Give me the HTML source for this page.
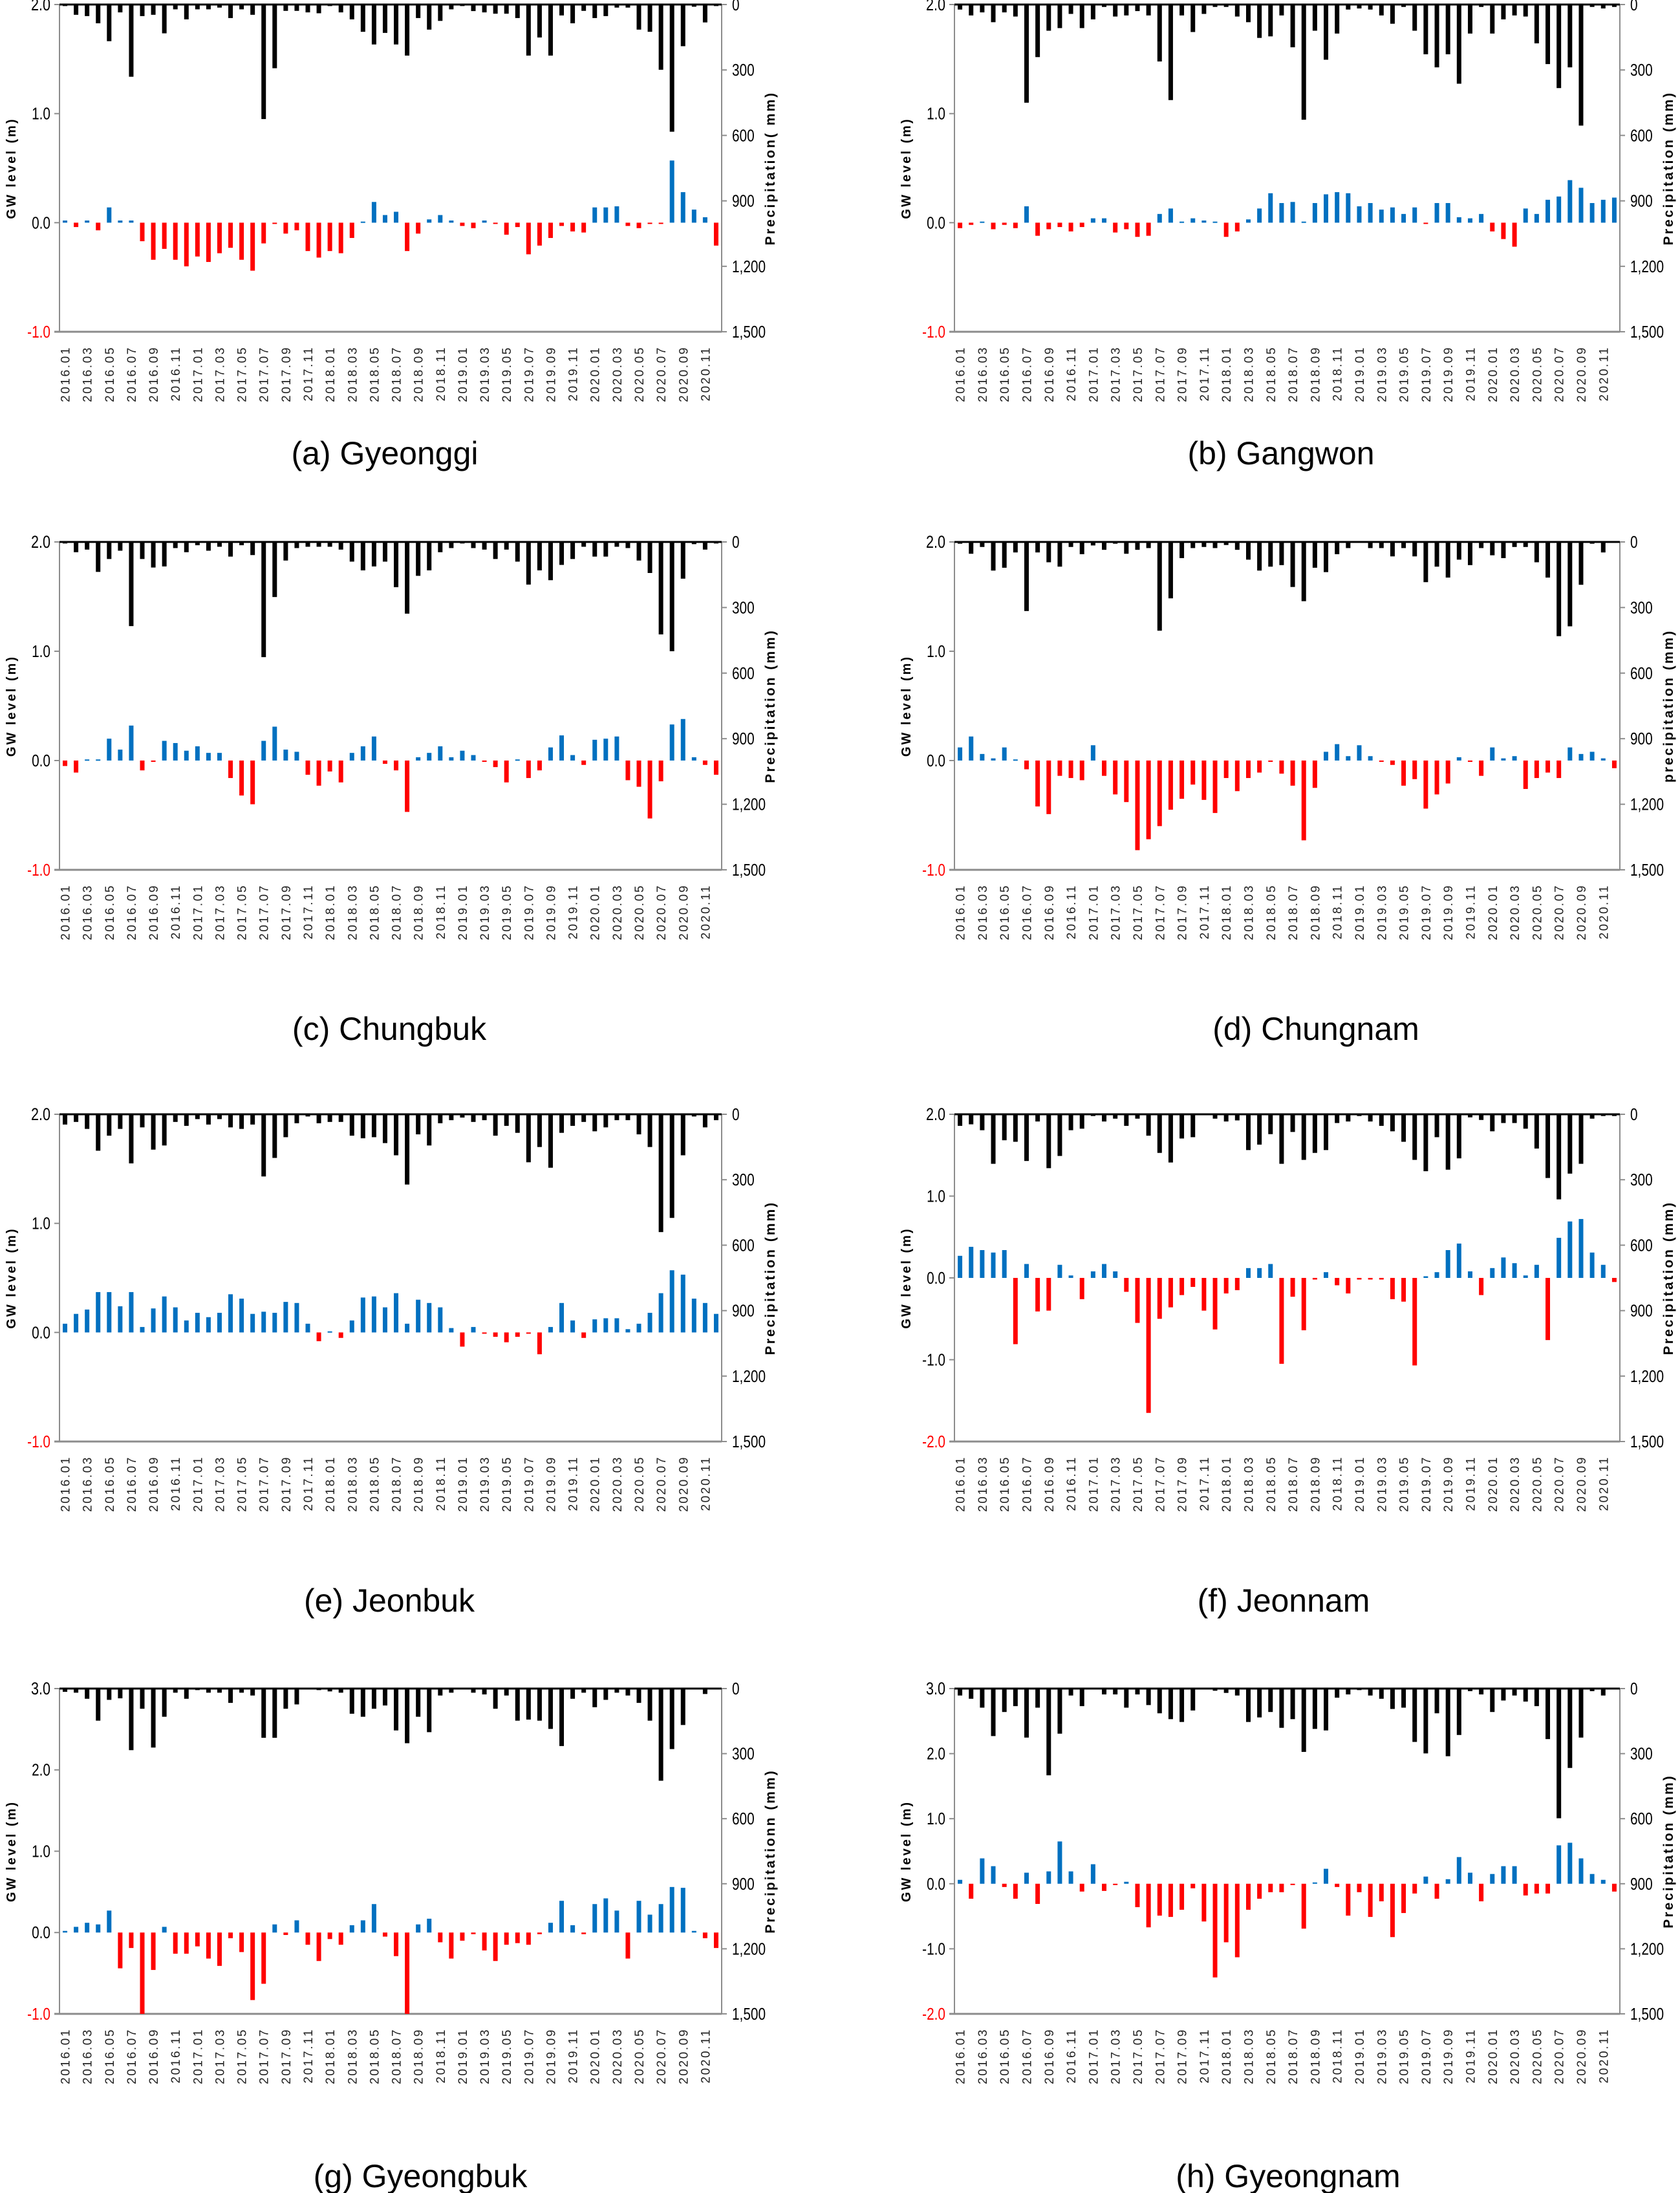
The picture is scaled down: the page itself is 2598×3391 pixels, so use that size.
<!DOCTYPE html>
<html><head><meta charset="utf-8"><style>
html,body{margin:0;padding:0;background:#fff;}
svg{display:block;font-family:"Liberation Sans",sans-serif;}
</style></head><body>
<svg id="fig" width="2598" height="3391" viewBox="0 0 2598 3391" xmlns="http://www.w3.org/2000/svg"></svg>
<script>
const months = [];
for (let y = 2016; y <= 2020; y++) for (let m = 1; m <= 12; m++) months.push(y + '.' + (m < 10 ? '0' + m : m));

const precipA = [7,47,53,86,168,36,331,53,47,132,22,68,22,22,14,62,22,47,525,292,29,29,36,40,7,36,68,125,183,130,183,234,62,115,75,22,7,30,36,42,42,62,234,151,234,50,86,29,62,53,14,14,115,125,299,583,191,10,82,7];
const gwA = [0.02,-0.04,0.02,-0.07,0.14,0.02,0.02,-0.17,-0.34,-0.24,-0.34,-0.40,-0.31,-0.36,-0.28,-0.23,-0.34,-0.44,-0.19,-0.01,-0.10,-0.07,-0.26,-0.32,-0.26,-0.28,-0.14,0.01,0.19,0.07,0.10,-0.26,-0.10,0.03,0.07,0.02,-0.03,-0.05,0.02,-0.01,-0.11,-0.04,-0.29,-0.21,-0.14,-0.03,-0.08,-0.09,0.14,0.14,0.15,-0.03,-0.05,-0.01,-0.01,0.57,0.28,0.12,0.05,-0.21];

const precipB = [23,50,36,81,36,55,450,241,120,108,43,108,68,11,55,50,30,50,261,438,50,126,43,11,11,55,81,153,146,50,196,528,120,253,133,23,18,23,50,88,11,120,228,288,228,363,133,11,133,68,50,55,178,273,383,288,555,11,18,11];
const gwB = [-0.05,-0.02,0.01,-0.06,-0.02,-0.05,0.15,-0.12,-0.06,-0.04,-0.08,-0.04,0.04,0.04,-0.09,-0.06,-0.13,-0.12,0.08,0.13,0.01,0.04,0.02,0.01,-0.13,-0.08,0.03,0.13,0.27,0.18,0.19,0.01,0.18,0.26,0.28,0.27,0.15,0.18,0.12,0.14,0.08,0.14,-0.01,0.18,0.18,0.05,0.04,0.08,-0.08,-0.15,-0.22,0.13,0.08,0.21,0.24,0.39,0.32,0.18,0.21,0.23];

const precipC = [7,47,35,137,78,40,385,78,117,112,28,47,15,40,22,67,15,60,527,252,85,28,22,22,22,35,90,130,112,90,207,328,155,130,47,28,7,28,35,78,35,90,195,130,175,105,78,22,67,67,22,28,85,142,423,500,168,10,35,7];
const gwC = [-0.05,-0.11,0.01,0.01,0.20,0.10,0.32,-0.09,-0.01,0.18,0.16,0.09,0.13,0.07,0.07,-0.16,-0.32,-0.40,0.18,0.31,0.10,0.08,-0.13,-0.23,-0.10,-0.20,0.07,0.13,0.22,-0.03,-0.09,-0.47,0.03,0.07,0.13,0.03,0.09,0.05,-0.01,-0.06,-0.20,0.01,-0.16,-0.09,0.12,0.23,0.05,-0.04,0.19,0.20,0.22,-0.18,-0.24,-0.53,-0.19,0.33,0.38,0.03,-0.04,-0.13];

const precipD = [8,54,23,131,118,48,316,48,93,113,23,56,16,36,8,54,36,28,406,258,74,28,23,28,14,36,81,131,113,106,206,271,118,138,56,28,0,28,28,66,28,66,184,113,163,81,106,28,61,74,23,23,93,163,431,386,196,8,48,0];
const gwD = [0.12,0.22,0.06,0.02,0.12,0.01,-0.08,-0.42,-0.49,-0.14,-0.16,-0.18,0.14,-0.14,-0.31,-0.38,-0.82,-0.72,-0.60,-0.45,-0.35,-0.22,-0.36,-0.48,-0.16,-0.28,-0.16,-0.11,-0.01,-0.12,-0.23,-0.73,-0.25,0.08,0.15,0.04,0.14,0.04,-0.01,-0.04,-0.23,-0.17,-0.44,-0.31,-0.21,0.03,-0.01,-0.14,0.12,0.02,0.04,-0.26,-0.16,-0.11,-0.16,0.12,0.06,0.08,0.02,-0.07];

const precipE = [47,35,67,167,98,67,225,60,162,143,35,53,22,47,22,60,67,47,285,200,105,41,10,41,35,35,98,110,105,132,188,322,92,143,41,27,15,35,27,98,53,85,220,150,245,85,53,35,78,60,27,27,92,150,540,475,188,10,60,27];
const gwE = [0.08,0.17,0.21,0.37,0.37,0.24,0.37,0.05,0.22,0.33,0.23,0.11,0.18,0.14,0.18,0.35,0.31,0.17,0.19,0.18,0.28,0.27,0.08,-0.08,0.01,-0.05,0.11,0.32,0.33,0.23,0.36,0.08,0.30,0.27,0.23,0.04,-0.13,0.05,-0.01,-0.04,-0.09,-0.04,-0.01,-0.20,0.05,0.27,0.11,-0.05,0.12,0.13,0.13,0.03,0.08,0.18,0.36,0.57,0.53,0.31,0.27,0.17];

const precipF = [53,46,73,227,119,126,214,33,247,191,73,66,8,33,20,53,20,98,177,221,111,105,0,20,33,28,164,139,91,227,81,209,177,164,40,33,8,33,53,78,126,209,261,105,254,202,14,26,78,40,40,66,157,292,390,272,227,20,8,8];
const gwF = [0.27,0.38,0.34,0.31,0.34,-0.81,0.17,-0.41,-0.40,0.16,0.03,-0.26,0.08,0.17,0.08,-0.17,-0.55,-1.65,-0.50,-0.36,-0.21,-0.11,-0.40,-0.63,-0.19,-0.15,0.12,0.12,0.17,-1.05,-0.23,-0.64,-0.02,0.07,-0.09,-0.19,-0.02,-0.02,-0.02,-0.26,-0.29,-1.07,0.02,0.07,0.34,0.42,0.08,-0.21,0.12,0.25,0.18,0.03,0.16,-0.76,0.49,0.69,0.72,0.31,0.16,-0.05];

const precipG = [15,19,47,148,52,45,284,93,272,130,19,47,7,19,19,66,19,32,227,227,93,73,0,7,13,19,116,130,93,78,193,252,130,201,32,19,0,19,27,93,32,148,143,148,186,265,47,19,86,52,19,32,66,148,425,279,168,0,25,0];
const gwG = [0.02,0.07,0.12,0.10,0.27,-0.44,-0.19,-1.0,-0.46,0.07,-0.26,-0.26,-0.17,-0.32,-0.41,-0.07,-0.24,-0.83,-0.63,0.10,-0.03,0.15,-0.15,-0.35,-0.08,-0.15,0.09,0.15,0.35,-0.05,-0.29,-1.0,0.10,0.17,-0.12,-0.32,-0.10,-0.02,-0.22,-0.35,-0.15,-0.13,-0.15,-0.02,0.12,0.39,0.09,-0.02,0.35,0.42,0.27,-0.32,0.39,0.22,0.35,0.56,0.55,0.02,-0.07,-0.19];

const precipH = [32,47,88,219,108,81,226,88,400,208,32,81,0,27,27,88,27,76,114,141,154,101,0,10,20,32,154,133,108,181,141,292,186,193,42,27,7,32,47,94,88,246,299,114,312,214,12,27,108,55,32,60,81,233,598,366,226,12,32,0];
const gwH = [0.06,-0.23,0.39,0.27,-0.05,-0.23,0.17,-0.31,0.19,0.65,0.19,-0.12,0.30,-0.11,-0.02,0.03,-0.36,-0.67,-0.49,-0.51,-0.40,-0.07,-0.58,-1.44,-0.90,-1.13,-0.40,-0.23,-0.13,-0.13,-0.02,-0.69,0.02,0.23,-0.05,-0.49,-0.13,-0.51,-0.27,-0.82,-0.45,-0.15,0.11,-0.23,0.07,0.41,0.17,-0.27,0.15,0.27,0.27,-0.18,-0.15,-0.15,0.59,0.63,0.39,0.15,0.06,-0.12];

const gwTicksABCDE = [2.0, 1.0, 0.0, -1.0];
const gwTicksF = [2.0, 1.0, 0.0, -1.0, -2.0];
const gwTicksG = [3.0, 2.0, 1.0, 0.0, -1.0];
const gwTicksH = [3.0, 2.0, 1.0, 0.0, -1.0, -2.0];
const precipTicks = [0, 300, 600, 900, 1200, 1500];
const precipTickLabels = ['0', '300', '600', '900', '1,200', '1,500'];

const panels = [
  {id:'a', name:'Gyeonggi', precip:precipA, gw:gwA, ticks:gwTicksABCDE, rt:'Precipitation( mm)', L:92, R:1116, T:7, B:513, cx:595, cy:700},
  {id:'b', name:'Gangwon', precip:precipB, gw:gwB, ticks:gwTicksABCDE, rt:'Precipitation (mm)', L:1476, R:2505, T:7, B:513, cx:1981, cy:700},
  {id:'c', name:'Chungbuk', precip:precipC, gw:gwC, ticks:gwTicksABCDE, rt:'Precipitation (mm)', L:92, R:1116, T:838, B:1345, cx:602, cy:1590},
  {id:'d', name:'Chungnam', precip:precipD, gw:gwD, ticks:gwTicksABCDE, rt:'precipitation (mm)', L:1476, R:2505, T:838, B:1345, cx:2035, cy:1590},
  {id:'e', name:'Jeonbuk', precip:precipE, gw:gwE, ticks:gwTicksABCDE, rt:'Precipitation (mm)', L:92, R:1116, T:1723, B:2229, cx:602, cy:2474},
  {id:'f', name:'Jeonnam', precip:precipF, gw:gwF, ticks:gwTicksF, rt:'Precipitation (mm)', L:1476, R:2505, T:1723, B:2229, cx:1985, cy:2474},
  {id:'g', name:'Gyeongbuk', precip:precipG, gw:gwG, ticks:gwTicksG, rt:'Precipitationn (mm)', L:92, R:1116, T:2611, B:3114, cx:650, cy:3364},
  {id:'h', name:'Gyeongnam', precip:precipH, gw:gwH, ticks:gwTicksH, rt:'Precipitation (mm)', L:1476, R:2505, T:2611, B:3114, cx:1992, cy:3364}
];

const NS = 'http://www.w3.org/2000/svg';
const svg = document.getElementById('fig');
function mk(tag, attrs, parent, text) {
  const el = document.createElementNS(NS, tag);
  for (const k in attrs) el.setAttribute(k, attrs[k]);
  if (text !== undefined) el.textContent = text;
  parent.appendChild(el);
  return el;
}

panels.forEach(p => {
  const g = mk('g', {}, svg);
  
  
  const n = months.length;
  const slot = (p.R - p.L) / n;
  const bw = 7;
  const ymax = p.ticks[0], ymin = p.ticks[p.ticks.length - 1];
  const xC = i => p.L + slot * (i + 0.5);
  const yGW = v => p.T + (ymax - v) / (ymax - ymin) * (p.B - p.T);
  const yP = v => p.T + v / 1500 * (p.B - p.T);

  const la = mk('line', {x1:p.L, y1:p.T, x2:p.L, y2:p.B, stroke:'#8c8c8c', 'stroke-width':2}, g);
  
  
  const ra = mk('line', {x1:p.R, y1:p.T, x2:p.R, y2:p.B, stroke:'#8c8c8c', 'stroke-width':2}, g);
  
  
  const ba = mk('line', {x1:p.L - 8, y1:p.B, x2:p.R, y2:p.B, stroke:'#8c8c8c', 'stroke-width':3}, g);
  
  

  p.ticks.forEach((t, k) => {
    const y = yGW(t);
    const tk = mk('line', {x1:p.L - 8, y1:y, x2:p.L, y2:y, stroke:'#8c8c8c', 'stroke-width':2}, g);
    
    
    const last = k === p.ticks.length - 1;
    const tl = mk('text', {x:p.L - 14, y:y + 9, 'text-anchor':'end', 'font-size': k === 0 ? 27 : 26, fill: last ? '#ff0000' : '#000', transform:'translate(' + (p.L - 14) + ' 0) scale(0.8 1) translate(' + (-(p.L - 14)) + ' 0)'}, g, t.toFixed(1));
    
    
  });
  precipTicks.forEach((t, k) => {
    const y = yP(t);
    const tk = mk('line', {x1:p.R, y1:y, x2:p.R + 8, y2:y, stroke:'#8c8c8c', 'stroke-width':2}, g);
    
    
    const tl = mk('text', {x:p.R + 16, y:y + 9, 'font-size':26, fill:'#000', transform:'translate(' + (p.R + 16) + ' 0) scale(0.8 1) translate(' + (-(p.R + 16)) + ' 0)'}, g, precipTickLabels[k]);
    
    
  });

  const lyc = (p.T + p.B) / 2;
  const lt = mk('text', {x:p.L - 68, y:lyc, 'text-anchor':'middle', 'font-size':20, 'font-weight':'bold', 'letter-spacing':3, transform:'rotate(-90 ' + (p.L - 68) + ' ' + lyc + ')'}, g, 'GW level (m)');
  
  
  const rx = p.R + 82;
  const rtt = mk('text', {x:rx, y:lyc, 'text-anchor':'middle', 'font-size':21, 'font-weight':'bold', 'letter-spacing':3, transform:'rotate(-90 ' + rx + ' ' + lyc + ')'}, g, p.rt);
  
  

  const y0 = yGW(0);
  p.gw.forEach((v, i) => {
    const yv = yGW(v);
    const b = mk('rect', {x:xC(i) - bw / 2, y:Math.min(y0, yv), width:bw, height:Math.max(Math.abs(yv - y0), 2), fill: v >= 0 ? '#0070c0' : '#ff0000'}, g);
    
    
  });
  p.precip.forEach((v, i) => {
    const b = mk('rect', {x:xC(i) - bw / 2, y:p.T, width:bw, height:Math.max(yP(v) - p.T, 1), fill:'#000'}, g);
    
    
  });
  const tl0 = mk('line', {x1:p.L, y1:p.T, x2:p.R, y2:p.T, stroke:'#000', 'stroke-width':3}, g);
  
  

  months.forEach((m, i) => {
    if (i % 2 !== 0) return;
    const x = xC(i) + 7;
    const y = p.B + 22;
    const t = mk('text', {x:x, y:y, 'text-anchor':'end', 'font-size':19, 'letter-spacing':2.6, fill:'#222', transform:'rotate(-90 ' + x + ' ' + y + ')'}, g, m);
    
    
  });

  const cap = mk('text', {x:p.cx, y:p.cy + 18, 'text-anchor':'middle', 'font-size':50, fill:'#000', 'xml:space':'preserve'}, g, '(' + p.id + ')  ' + p.name);
  
  
});
</script>
</body></html>
